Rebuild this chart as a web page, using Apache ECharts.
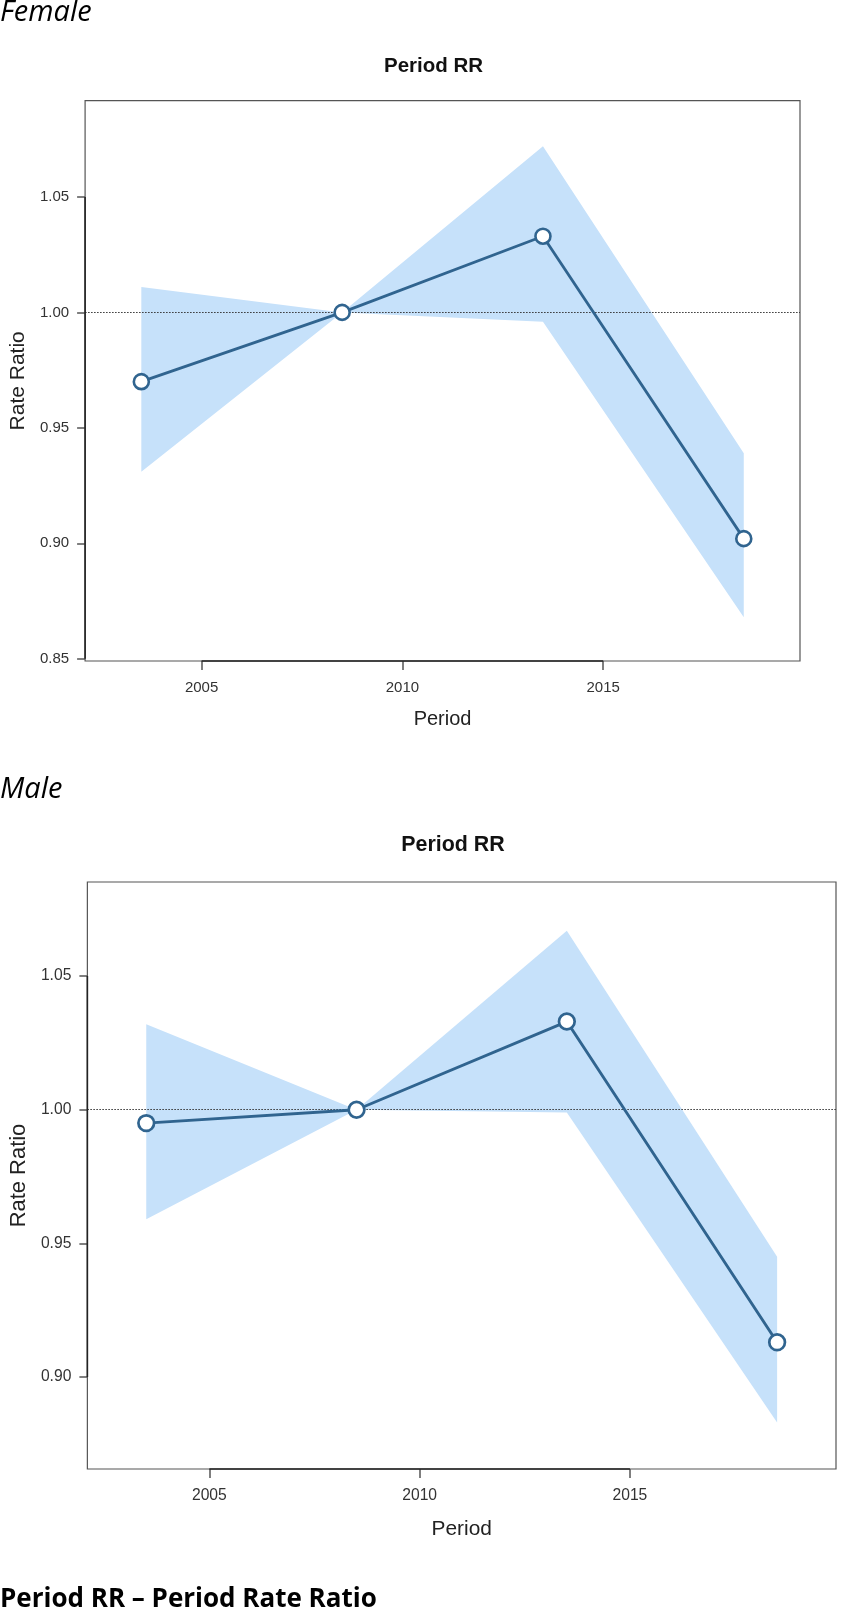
<!DOCTYPE html>
<html>
<head>
<meta charset="utf-8">
<script src="https://cdn.jsdelivr.net/npm/echarts@6/dist/echarts.min.js"></script>
<style>
html,body{margin:0;padding:0;background:#fff;}
#chart{width:854px;height:1612px;}
</style>
</head>
<body>
<div id="chart"></div>
<script>
// ---- data ----
const periods = [2003.5, 2008.5, 2013.5, 2018.5];
const femaleRR    = [0.970, 1.000, 1.033, 0.902];
const femaleLower = [0.931, 1.000, 0.996, 0.868];
const femaleUpper = [1.011, 1.000, 1.072, 0.939];
const maleRR    = [0.995, 1.000, 1.033, 0.913];
const maleLower = [0.959, 1.000, 0.999, 0.883];
const maleUpper = [1.032, 1.000, 1.067, 0.945];
const xTickLabels = [2005, 2010, 2015];
const yTickLabelsFemale = [0.85, 0.90, 0.95, 1.00, 1.05];
const yTickLabelsMale = [0.90, 0.95, 1.00, 1.05];
const panelNames = ['Female', 'Male'];
const plotTitle = 'Period RR';
const xName = 'Period';
const yName = 'Rate Ratio';
const footnote = 'Period RR \u2013 Period Rate Ratio';

// ---- style ----
const LINE = '#30648f';
const BAND = '#c6e1fa';
const FONT = '"Liberation Sans", Arial, sans-serif';
const DOC = '"Open Sans", "Noto Sans", sans-serif';

const xMin = 2002.1, xMax = 2019.9;
const panels = [
  { rr: femaleRR, lo: femaleLower, hi: femaleUpper, yMin: 0.849, yMax: 1.0917, ticks: yTickLabelsFemale,
    grid: { left: 67, top: 100.7, width: 733, height: 560.3 }, s: 1.0, titleY: 66 },
  { rr: maleRR, lo: maleLower, hi: maleUpper, yMin: 0.8656, yMax: 1.0852, ticks: yTickLabelsMale,
    grid: { left: 70, top: 882, width: 766, height: 587 }, s: 1.045, titleY: 845 }
];

const grids = [], xAxes = [], yAxes = [], series = [], graphics = [];
panels.forEach((p, i) => {
  const s = p.s;
  grids.push(Object.assign({ show: true, borderColor: '#555', borderWidth: 1.2, backgroundColor: 'transparent', containLabel: false }, p.grid));
  xAxes.push({
    type: 'value', gridIndex: i, min: xMin, max: xMax,
    name: xName, nameLocation: 'middle', nameGap: Math.round(48 * s),
    nameTextStyle: { fontFamily: FONT, fontSize: 20 * s, color: '#222' },
    axisLine: { show: false },
    axisTick: { show: true, customValues: xTickLabels, length: 9, lineStyle: { color: '#555', width: 1.5 } },
    axisLabel: { customValues: xTickLabels, margin: 19, fontFamily: FONT, fontSize: 15 * s, color: '#333',
      formatter: v => String(Math.round(v)) },
    splitLine: { show: false }
  });
  yAxes.push({
    type: 'value', gridIndex: i, min: p.yMin, max: p.yMax,
    name: yName, nameLocation: 'middle', nameGap: Math.round(49 * s),
    nameTextStyle: { fontFamily: FONT, fontSize: 21 * s, color: '#222' },
    axisLine: { show: false },
    axisTick: { show: true, customValues: p.ticks, length: 8, lineStyle: { color: '#555', width: 1.5 } },
    axisLabel: { customValues: p.ticks, margin: 16, fontFamily: FONT, fontSize: 15 * s, color: '#333',
      formatter: v => v.toFixed(2) },
    splitLine: { show: false }
  });
  // confidence band as one polygon through the axis scales
  series.push({
    type: 'custom', xAxisIndex: i, yAxisIndex: i, silent: true, z: 1, clip: true,
    data: periods.map((x, k) => [x, p.lo[k], p.hi[k]]),
    encode: { x: 0, y: [1, 2] },
    renderItem: (params, api) => {
      if (params.dataIndex !== 0) return null;
      const pts = [];
      for (let k = 0; k < periods.length; k++) pts.push(api.coord([periods[k], p.hi[k]]));
      for (let k = periods.length - 1; k >= 0; k--) pts.push(api.coord([periods[k], p.lo[k]]));
      return { type: 'polygon', shape: { points: pts }, style: { fill: BAND, stroke: null } };
    }
  });
  // axis line segments (R draws them from first to last tick)
  series.push({
    type: 'line', xAxisIndex: i, yAxisIndex: i, symbol: 'none', silent: true, clip: false,
    lineStyle: { color: '#222', width: 1.6 },
    data: [[xTickLabels[0], p.yMin], [xTickLabels[xTickLabels.length - 1], p.yMin]], z: 5
  });
  series.push({
    type: 'line', xAxisIndex: i, yAxisIndex: i, symbol: 'none', silent: true, clip: false,
    lineStyle: { color: '#222', width: 1.6 },
    data: [[xMin, p.ticks[0]], [xMin, p.ticks[p.ticks.length - 1]]], z: 5
  });
  series.push({
    type: 'line', xAxisIndex: i, yAxisIndex: i, z: 10,
    data: periods.map((x, k) => [x, p.rr[k]]),
    lineStyle: { color: LINE, width: 2.8 * s },
    symbol: 'circle', symbolSize: 15 * s, showAllSymbol: true,
    itemStyle: { color: '#fff', borderColor: LINE, borderWidth: 2.6 * s },
    markLine: {
      silent: true, symbol: ['none', 'none'], label: { show: false },
      lineStyle: { type: [1.5, 1.5], color: '#333', width: 1 },
      data: [{ yAxis: 1 }], z: 3
    }
  });
  graphics.push({
    type: 'text', x: p.grid.left + p.grid.width / 2, y: p.titleY,
    style: { text: plotTitle, font: 'bold ' + (20.5 * s).toFixed(1) + 'px ' + FONT, fill: '#111',
      textAlign: 'center', textVerticalAlign: 'middle' }
  });
});

graphics.push({ type: 'text', x: 0, y: 13,
  style: { text: panelNames[0], font: 'italic 29px ' + DOC, fill: '#000', textAlign: 'left', textVerticalAlign: 'middle' } });
graphics.push({ type: 'text', x: 0, y: 790,
  style: { text: panelNames[1], font: 'italic 29px ' + DOC, fill: '#000', textAlign: 'left', textVerticalAlign: 'middle' } });
graphics.push({ type: 'text', x: 0, y: 1600,
  style: { text: footnote, font: 'bold 26px ' + DOC, fill: '#000', textAlign: 'left', textVerticalAlign: 'middle' } });

const chart = echarts.init(document.getElementById('chart'), null, { renderer: 'canvas' });
chart.setOption({
  animation: false,
  backgroundColor: '#fff',
  grid: grids, xAxis: xAxes, yAxis: yAxes, series: series, graphic: graphics
});
</script>
</body>
</html>
